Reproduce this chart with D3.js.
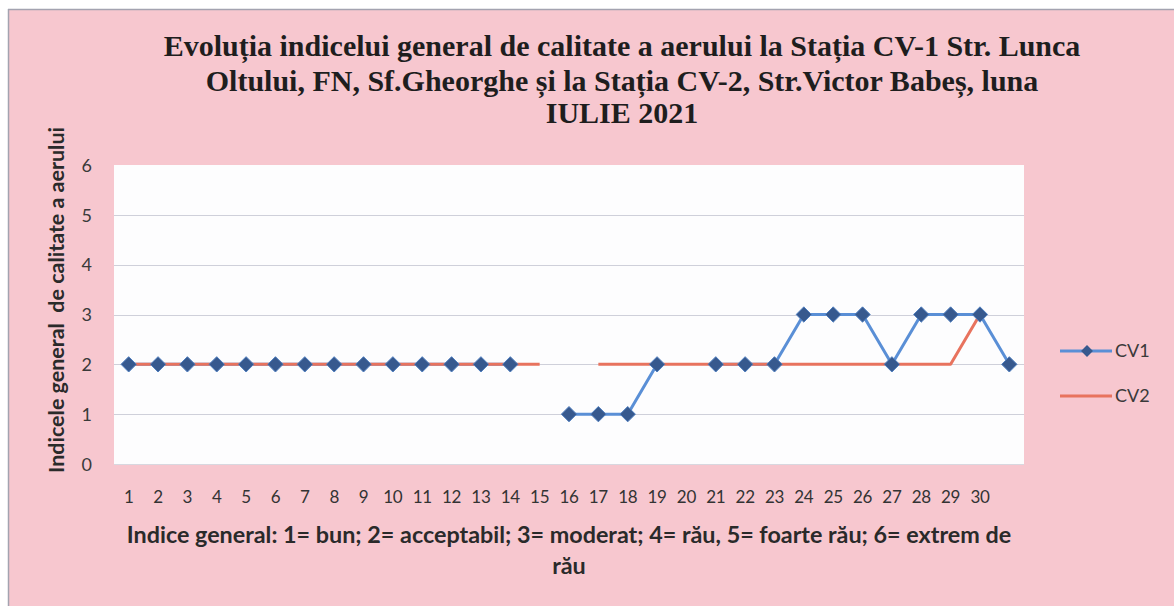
<!DOCTYPE html>
<html>
<head>
<meta charset="utf-8">
<script src="https://cdn.jsdelivr.net/npm/d3@7"></script>
<style>
  html, body { margin: 0; padding: 0; background: #ffffff; }
  svg { display: block; }
</style>
</head>
<body>
<script>
// ---- data ----
const days = ["1","2","3","4","5","6","7","8","9","10","11","12","13","14","15","16","17","18","19","20","21","22","23","24","25","26","27","28","29","30","31"];
const xTickLabels = ["1","2","3","4","5","6","7","8","9","10","11","12","13","14","15","16","17","18","19","20","21","22","23","24","25","26","27","28","29","30"];
const cv1 = [2,2,2,2,2,2,2,2,2,2,2,2,2,2,null,1,1,1,2,null,2,2,2,3,3,3,2,3,3,3,2];
const cv2 = [2,2,2,2,2,2,2,2,2,2,2,2,2,2,2,null,2,2,2,2,2,2,2,2,2,2,2,2,2,3,null];
const yTicks = [0,1,2,3,4,5,6];
const seriesNames = ["CV1","CV2"];
const titleLines = [
  "Evoluția indicelui general de calitate a aerului la Stația CV-1 Str. Lunca",
  "Oltului, FN, Sf.Gheorghe și la Stația CV-2, Str.Victor Babeș, luna",
  "IULIE 2021"
];
const yTitle = "Indicele general  de calitate a aerului";
const captionLines = [
  "Indice general: 1= bun; 2= acceptabil; 3= moderat; 4= rău, 5= foarte rău; 6= extrem de",
  "rău"
];

// ---- layout ----
const W = 1174, H = 606;
const plot = { left: 114, right: 1024, top: 165, bottom: 464 };
const pink = "#f7c7cf";
const blue = "#5a8fd6";
const markerFill = "#37598e";
const red = "#e8735e";

const svg = d3.select("body").append("svg").attr("width", W).attr("height", H);

// chart area background
svg.append("rect").attr("x", 0).attr("y", 0).attr("width", W).attr("height", H).attr("fill", "#ffffff");
svg.append("rect").attr("x", 8).attr("y", 9).attr("width", W - 8).attr("height", H - 9).attr("fill", pink);
svg.append("line").attr("x1", 8).attr("x2", W).attr("y1", 9.5).attr("y2", 9.5).attr("stroke", "#a3a3b0").attr("stroke-width", 1.5);
svg.append("line").attr("x1", 8.5).attr("x2", 8.5).attr("y1", 9).attr("y2", H).attr("stroke", "#a3a3b0").attr("stroke-width", 1.5);

// plot area
svg.append("rect")
  .attr("x", plot.left).attr("y", plot.top)
  .attr("width", plot.right - plot.left).attr("height", plot.bottom - plot.top)
  .attr("fill", "#fdfdfe");

const x = d3.scaleBand().domain(days).range([plot.left, plot.right]).padding(0);
const y = d3.scaleLinear().domain([0, 6]).range([plot.bottom, plot.top]);
const cx = d => x(d) + x.bandwidth() / 2;

// gridlines
svg.append("g").selectAll("line").data(yTicks.filter(t => t > 0 && t < 6)).join("line")
  .attr("x1", plot.left).attr("x2", plot.right)
  .attr("y1", d => Math.round(y(d)) + 0.5).attr("y2", d => Math.round(y(d)) + 0.5)
  .attr("stroke", "#cfd0da").attr("stroke-width", 1);
svg.append("line").attr("x1", plot.left).attr("x2", plot.right)
  .attr("y1", plot.bottom + 0.5).attr("y2", plot.bottom + 0.5)
  .attr("stroke", "#d8d8e0").attr("stroke-width", 1);

// y axis
const yAxis = d3.axisLeft(y).tickValues(yTicks).tickFormat(d3.format("d")).tickSize(0).tickPadding(0);
const gy = svg.append("g").attr("transform", `translate(${plot.left - 22},0)`).call(yAxis);
gy.select(".domain").remove();
gy.selectAll("text").attr("font-family", "Lato, 'Open Sans', sans-serif").attr("font-size", 18)
  .attr("fill", "#3a3a3a").attr("dy", "0.35em");

// x axis
const xAxis = d3.axisBottom(x).tickSize(0).tickPadding(0)
  .tickFormat((d, i) => xTickLabels[i] !== undefined ? xTickLabels[i] : "");
const gx = svg.append("g").attr("transform", `translate(0,${plot.bottom + 27})`).call(xAxis);
gx.select(".domain").remove();
gx.selectAll("text").attr("font-family", "Lato, 'Open Sans', sans-serif").attr("font-size", 17)
  .attr("fill", "#333333").attr("letter-spacing", "-0.3px");

// lines
const line = d3.line()
  .defined(d => d.v !== null)
  .x(d => cx(d.day))
  .y(d => y(d.v));
const s1 = days.map((day, i) => ({ day, v: cv1[i] }));
const s2 = days.map((day, i) => ({ day, v: cv2[i] }));

svg.append("path").datum(s1).attr("d", line).attr("fill", "none")
  .attr("stroke", blue).attr("stroke-width", 3).attr("stroke-linejoin", "round");
svg.append("path").datum(s2).attr("d", line).attr("fill", "none")
  .attr("stroke", red).attr("stroke-width", 3).attr("stroke-linejoin", "round");

// markers
const diamond = d3.symbol().type(d3.symbolDiamond2).size(150);
svg.append("g").selectAll("path").data(s1.filter(d => d.v !== null)).join("path")
  .attr("d", diamond)
  .attr("transform", d => `translate(${cx(d.day)},${y(d.v)})`)
  .attr("fill", markerFill).attr("stroke", "#4f7fc0").attr("stroke-width", 1);

// title
const title = svg.append("g");
const titleY = [56, 91, 123];
titleLines.forEach((t, i) => {
  title.append("text").attr("x", 622).attr("y", titleY[i])
    .attr("text-anchor", "middle")
    .attr("font-family", "'Liberation Serif', 'Times New Roman', serif")
    .attr("font-weight", "bold").attr("font-size", 24).attr("fill", "#1e1e1e")
    .text(t);
});
{
  const first = title.select("text").node();
  const w = first.getComputedTextLength();
  const fs = 24 * 917 / w;
  title.selectAll("text").attr("font-size", fs.toFixed(2));
}

// y title
const yt = svg.append("text")
  .attr("transform", `translate(56,${300}) rotate(-90)`)
  .attr("text-anchor", "middle")
  .attr("font-family", "Lato, 'Open Sans', sans-serif")
  .attr("font-weight", "bold").attr("font-size", 18).attr("fill", "#2a2a2a")
  .attr("dy", "0.35em")
  .attr("xml:space", "preserve")
  .style("white-space", "pre")
  .text(yTitle);
{
  const w = yt.node().getComputedTextLength();
  yt.attr("font-size", (18 * 346 / w).toFixed(2));
}

// caption
const cap = svg.append("g");
const capY = [543, 574];
captionLines.forEach((t, i) => {
  cap.append("text").attr("x", 569).attr("y", capY[i])
    .attr("text-anchor", "middle")
    .attr("font-family", "Lato, 'Open Sans', sans-serif")
    .attr("font-weight", "bold").attr("font-size", 18).attr("fill", "#2a2a2a")
    .text(t);
});
{
  const first = cap.select("text").node();
  const w = first.getComputedTextLength();
  cap.selectAll("text").attr("font-size", (18 * 885 / w).toFixed(2));
}

// legend
const legend = svg.append("g");
const legY = [351, 396];
seriesNames.forEach((name, i) => {
  const g = legend.append("g").attr("transform", `translate(0,${legY[i]})`);
  g.append("line").attr("x1", 1060).attr("x2", 1112).attr("y1", 0).attr("y2", 0)
    .attr("stroke", i === 0 ? blue : red).attr("stroke-width", 3);
  if (i === 0) {
    g.append("path").attr("d", d3.symbol().type(d3.symbolDiamond2).size(90))
      .attr("transform", "translate(1087,0)").attr("fill", markerFill);
  }
  g.append("text").attr("x", 1115).attr("y", 0).attr("dy", "0.35em")
    .attr("font-family", "Lato, 'Open Sans', sans-serif").attr("font-size", 18)
    .attr("fill", "#3a3a3a").text(name);
});
</script>
</body>
</html>
